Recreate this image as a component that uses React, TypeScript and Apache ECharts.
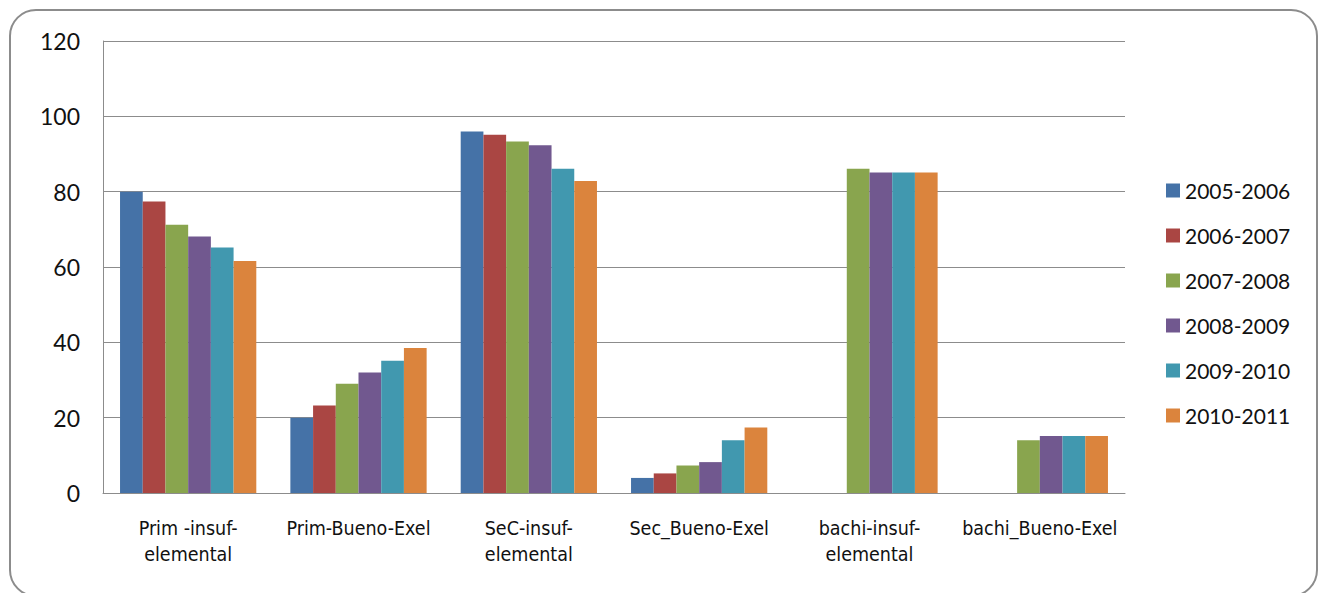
import React, { useEffect, useRef } from "react";
import * as echarts from "echarts";

const categories = [
  "Prim -insuf-\nelemental",
  "Prim-Bueno-Exel",
  "SeC-insuf-\nelemental",
  "Sec_Bueno-Exel",
  "bachi-insuf-\nelemental",
  "bachi_Bueno-Exel",
];

const seriesNames = ["2005-2006", "2006-2007", "2007-2008", "2008-2009", "2009-2010", "2010-2011"];

const s2005 = [80, 20, 96, 4, null, null];
const s2006 = [77.4, 23.2, 95.1, 5.2, null, null];
const s2007 = [71.2, 29, 93.3, 7.3, 86.1, 14];
const s2008 = [68.1, 32, 92.3, 8.2, 85.1, 15.1];
const s2009 = [65.2, 35.1, 86.1, 14, 85.1, 15.1];
const s2010 = [61.6, 38.5, 82.8, 17.4, 85.1, 15.1];

const seriesValues = [s2005, s2006, s2007, s2008, s2009, s2010];
const colors = ["#4572A7", "#AA4643", "#89A54E", "#71588F", "#4198AF", "#DB843D"];

export default function App() {
  const ref = useRef<HTMLDivElement>(null);
  useEffect(() => {
    document.body.style.margin = "0";
    const chart = echarts.init(ref.current!, null, { renderer: "svg" });
    chart.setOption({
      animation: false,
      backgroundColor: "#ffffff",
      color: colors,
      graphic: [
        {
          type: "rect",
          shape: { x: 10, y: 10, width: 1307, height: 586, r: 26 },
          style: { fill: "none", stroke: "#8c8c8c", lineWidth: 2 },
          z: -1,
        },
      ],
      grid: { left: 103, right: 194, top: 41, bottom: 100, containLabel: false },
      legend: {
        orient: "vertical",
        left: 1161,
        top: 175,
        itemWidth: 14,
        itemHeight: 14,
        itemGap: 24,
        icon: "rect",
        data: seriesNames,
        textStyle: { fontFamily: "Lato", fontSize: 21, lineHeight: 21, color: "#111111" },
      },
      xAxis: {
        type: "category",
        data: categories,
        axisLine: { lineStyle: { color: "#8c8c8c", width: 1 } },
        axisTick: { show: false },
        axisLabel: {
          interval: 0,
          margin: 22,
          fontFamily: "'Liberation Sans Narrow', 'DejaVu Sans Condensed', Lato",
          fontSize: 19.5,
          lineHeight: 26,
          color: "#111111",
        },
      },
      yAxis: {
        type: "value",
        min: 0,
        max: 120,
        interval: 20,
        axisLine: { show: true, lineStyle: { color: "#8c8c8c", width: 1 } },
        axisTick: { show: false },
        splitLine: { lineStyle: { color: "#8c8c8c", width: 1 } },
        axisLabel: { margin: 23, fontFamily: "Lato", fontSize: 23, color: "#111111" },
      },
      series: seriesNames.map((name, i) => ({
        name,
        type: "bar",
        data: seriesValues[i],
        barGap: "0%",
        barCategoryGap: "20%",
        itemStyle: { color: colors[i] },
      })),
    });
    return () => chart.dispose();
  }, []);
  return <div ref={ref} style={{ position: "absolute", left: 0, top: 0, width: 1319, height: 593 }} />;
}
